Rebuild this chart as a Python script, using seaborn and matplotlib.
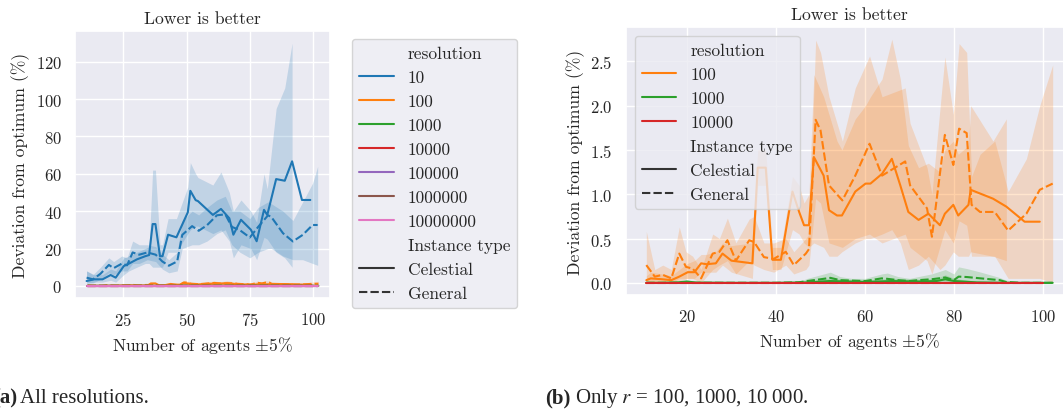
import numpy as np
import pandas as pd
import matplotlib
matplotlib.use("Agg")
import matplotlib.pyplot as plt
import seaborn as sns

# ---------------------------------------------------------------------------
# Deviation from optimum (%) per number of agents, one list per
# (resolution, instance type): x positions, mean, and confidence band.
# ---------------------------------------------------------------------------

# resolution 10, Celestial
x_10_cel = [10.5, 13.5, 16.8, 20.0, 22.0, 25.2, 27.2, 30.4, 33.7, 35.2, 36.6, 37.7,
            39.5, 40.5, 42.7, 46.0, 50.5, 51.5, 53.6, 54.5, 60.4, 63.6, 66.9, 68.5,
            71.5, 75.4, 77.7, 80.6, 81.9, 85.4, 88.8, 91.7, 95.6, 98.9]
y_10_cel = [2.6, 3.5, 3.5, 5.8, 4.4, 10.6, 11.9, 14.2, 15.9, 16.5, 33.1, 33.1,
            15.9, 15.9, 27.4, 26.0, 39.4, 50.9, 45.9, 45.4, 38.0, 41.2, 36.2, 27.4,
            35.4, 30.1, 23.9, 40.7, 38.0, 57.2, 56.3, 66.7, 46.0, 46.0]
lo_10_cel = [1, 2, 2, 3, 2, 6, 8, 10, 12, 12, 10, 10,
             10, 10, 18, 18, 28, 30, 32, 32, 28, 30, 24, 15,
             22, 20, 14, 26, 25, 18, 15, 10, np.nan, np.nan]
hi_10_cel = [8, 6, 6, 9, 8, 15, 16, 18, 20, 21, 62, 62,
             22, 22, 36, 36, 53, 66, 60, 58, 54, 61, 50, 40,
             46, 40, 34, 60, 52, 95, 106, 130, np.nan, np.nan]

# resolution 10, General
x_10_gen = [10.5, 13.0, 16.0, 19.3, 21.2, 24.4, 26.5, 28.7, 31.3, 34.5, 37.8, 40.4,
            43.0, 46.3, 48.3, 52.2, 54.8, 58.1, 62.0, 65.3, 67.9, 71.1, 75.0, 78.3,
            82.2, 83.5, 88.1, 92.0, 95.9, 99.8, 101.8]
y_10_gen = [4.4, 3.5, 6.5, 11.2, 9.5, 11.9, 11.0, 17.9, 16.7, 17.9, 16.7, 13.1,
            10.8, 13.1, 27.3, 32.0, 29.5, 32.5, 37.8, 38.3, 31.6, 29.8, 25.9, 31.6,
            37.8, 36.9, 28.2, 23.8, 27.3, 32.6, 32.6]
lo_10_gen = [2, 1.5, 3.5, 7, 6, 8, 8, 12, 12, 14, 13, 9,
             7, 8, 20, 22, 22, 24, 28, 30, 22, 18, 15, 18,
             20, 20, 16, 14, 14, 12, 11]
hi_10_gen = [8, 6, 10, 15, 13, 16, 15, 24, 22, 22, 21, 17,
             14, 18, 35, 40, 38, 42, 46, 48, 40, 40, 36, 42,
             45, 44, 40, 35, 45, 55, 64]

# resolution 100, Celestial
x_100_cel = [10.9, 11.9, 14.5, 16.5, 18.3, 20.2, 21.7, 23.2, 24.4, 26.5, 28.0, 30.0,
             34.7, 35.9, 37.7, 39.2, 41.1, 43.7, 45.2, 46.3, 47.4, 48.5, 50.7, 51.9,
             53.7, 54.8, 57.8, 60.1, 61.2, 63.8, 66.0, 67.9, 69.7, 72.0, 74.2, 76.8,
             77.9, 79.8, 80.9, 83.2, 83.7, 88.7, 91.7, 95.8, 99.2]
y_100_cel = [0.03, 0.05, 0.04, 0.03, 0.07, 0.12, 0.12, 0.22, 0.21, 0.22, 0.33, 0.25,
             0.22, 1.30, 1.30, 0.26, 0.26, 1.03, 0.80, 0.65, 0.65, 1.42, 1.21, 0.82,
             0.76, 0.76, 1.03, 1.12, 1.12, 1.23, 1.40, 1.10, 0.80, 0.71, 0.78, 0.65,
             0.78, 0.88, 0.76, 0.88, 1.05, 0.95, 0.86, 0.69, 0.69]
lo_100_cel = [0.0, 0.0, 0.0, 0.0, 0.02, 0.05, 0.05, 0.12, 0.12, 0.12, 0.20, 0.12,
              0.05, 1.10, 1.10, 0.15, 0.15, 0.60, 0.55, 0.45, 0.40, 0.45, 0.40, 0.30,
              0.30, 0.35, 0.45, 0.50, 0.50, 0.55, 0.60, 0.45, 0.15, 0.20, 0.30, 0.15,
              0.20, 0.35, 0.30, 0.30, 0.35, 0.30, 0.25, np.nan, np.nan]
hi_100_cel = [0.08, 0.12, 0.10, 0.08, 0.15, 0.22, 0.25, 0.32, 0.32, 0.35, 0.45, 0.42,
              0.45, 1.50, 1.50, 0.40, 0.40, 1.20, 1.10, 0.90, 1.00, 2.35, 2.10, 1.90,
              1.60, 1.50, 1.85, 2.00, 2.10, 2.30, 2.75, 2.30, 1.55, 1.30, 1.35, 1.25,
              1.50, 1.60, 1.45, 1.55, 2.00, 1.60, 1.85, np.nan, np.nan]

# resolution 100, General
x_100_gen = [10.9, 12.8, 14.6, 16.5, 18.3, 19.8, 21.3, 23.2, 25.8, 27.3, 29.1, 31.0,
             34.0, 35.1, 37.3, 39.5, 42.2, 44.0, 46.7, 47.4, 48.9, 50.0, 51.9, 54.9,
             57.8, 61.0, 63.8, 69.0, 70.1, 73.9, 75.0, 77.9, 79.8, 81.1, 82.8, 83.9,
             85.8, 89.1, 92.1, 96.2, 99.2, 102.1]
y_100_gen = [0.20, 0.07, 0.09, 0.05, 0.33, 0.18, 0.16, 0.05, 0.33, 0.35, 0.48, 0.25,
             0.48, 0.46, 0.29, 0.27, 0.35, 0.20, 0.33, 0.38, 1.84, 1.72, 1.10, 0.93,
             1.21, 1.57, 1.21, 1.37, 1.10, 0.84, 0.52, 1.67, 1.33, 1.74, 1.69, 0.88,
             0.80, 0.80, 0.59, 0.78, 1.05, 1.12]
lo_100_gen = [0.0, 0.0, 0.0, 0.0, 0.05, 0.05, 0.05, 0.0, 0.15, 0.20, 0.25, 0.10,
              0.25, 0.20, 0.15, 0.12, 0.20, 0.10, 0.15, 0.20, 0.95, 0.90, 0.45, 0.40,
              0.50, 0.55, 0.45, 0.55, 0.40, 0.25, 0.10, 0.60, 0.45, 0.70, 0.65, 0.30,
              0.30, 0.30, 0.05, 0.05, 0.05, 0.0]
hi_100_gen = [0.58, 0.15, 0.20, 0.15, 0.63, 0.35, 0.30, 0.15, 0.55, 0.50, 0.73, 0.45,
              0.72, 0.75, 0.45, 0.45, 0.50, 0.35, 0.50, 0.55, 2.74, 2.60, 2.10, 1.60,
              2.20, 2.56, 2.10, 2.20, 1.80, 1.30, 1.00, 2.55, 1.90, 2.70, 2.60, 1.20,
              1.45, 1.60, 1.03, 1.40, 2.00, 2.46]

# resolution 1000, Celestial
x_1000_cel = [10.9, 14.0, 18.0, 20.0, 22.0, 30.0, 40.0, 47.0, 52.0, 60.0, 66.0, 72.0,
              76.0, 78.0, 80.0, 85.0, 92.0, 100.0, 102.1]
y_1000_cel = [0.0, 0.0, 0.005, 0.015, 0.003, 0.0, 0.0, 0.005, 0.02, 0.01, 0.02, 0.015,
              0.02, 0.04, 0.02, 0.005, 0.0, 0.0, 0.0]
lo_1000_cel = [0.0, 0.0, 0.0, 0.005, 0.0, 0.0, 0.0, 0.0, 0.005, 0.0, 0.005, 0.005,
               0.005, 0.01, 0.005, 0.0, 0.0, 0.0, 0.0]
hi_1000_cel = [0.0, 0.005, 0.015, 0.03, 0.01, 0.0, 0.0, 0.015, 0.05, 0.03, 0.05, 0.04,
               0.05, 0.09, 0.05, 0.015, 0.0, 0.0, 0.0]

# resolution 1000, General
x_1000_gen = [10.9, 20.0, 30.0, 40.0, 45.0, 47.0, 50.0, 52.2, 54.4, 57.0, 60.0, 63.7,
              65.0, 67.4, 70.0, 71.9, 74.9, 78.0, 79.9, 81.0, 82.9, 86.0, 90.2, 91.6,
              95.0, 100.0, 102.1]
y_1000_gen = [0.0, 0.0, 0.0, 0.0, 0.005, 0.02, 0.04, 0.056, 0.03, 0.025, 0.02, 0.05,
              0.045, 0.03, 0.02, 0.03, 0.04, 0.06, 0.03, 0.07, 0.065, 0.05, 0.03, 0.01,
              0.0, 0.0, 0.0]
lo_1000_gen = [0.0, 0.0, 0.0, 0.0, 0.0, 0.0, 0.01, 0.02, 0.01, 0.005, 0.005, 0.02,
               0.015, 0.01, 0.005, 0.01, 0.01, 0.02, 0.005, 0.02, 0.02, 0.01, 0.005, 0.0,
               0.0, 0.0, 0.0]
hi_1000_gen = [0.0, 0.0, 0.0, 0.0, 0.01, 0.05, 0.09, 0.12, 0.07, 0.05, 0.05, 0.10,
               0.11, 0.07, 0.05, 0.07, 0.10, 0.15, 0.10, 0.18, 0.16, 0.12, 0.06, 0.03,
               0.01, 0.0, 0.0]

# resolutions 10000 and above stay at the optimum
x_flat = [10.9, 30.0, 50.0, 70.0, 90.0, 100.0]
y_flat = [0.0, 0.0, 0.0, 0.0, 0.0, 0.0]
x_flat_full = [10.5, 30.0, 50.0, 70.0, 90.0, 102.0]
y_flat_full = [0.0, 0.0, 0.0, 0.0, 0.0, 0.0]

resolutions_a = ["10", "100", "1000", "10000", "100000", "1000000", "10000000"]
resolutions_b = ["100", "1000", "10000"]
instance_types = ["Celestial", "General"]
palette_all = sns.color_palette("tab10", 7)

series = {
    ("10", "Celestial"): (x_10_cel, y_10_cel, lo_10_cel, hi_10_cel),
    ("10", "General"): (x_10_gen, y_10_gen, lo_10_gen, hi_10_gen),
    ("100", "Celestial"): (x_100_cel, y_100_cel, lo_100_cel, hi_100_cel),
    ("100", "General"): (x_100_gen, y_100_gen, lo_100_gen, hi_100_gen),
    ("1000", "Celestial"): (x_1000_cel, y_1000_cel, lo_1000_cel, hi_1000_cel),
    ("1000", "General"): (x_1000_gen, y_1000_gen, lo_1000_gen, hi_1000_gen),
    ("10000", "Celestial"): (x_flat, y_flat, y_flat, y_flat),
    ("10000", "General"): (x_flat, y_flat, y_flat, y_flat),
}
for r in ["100000", "1000000", "10000000"]:
    for t in instance_types:
        series[(r, t)] = (x_flat_full, y_flat_full, y_flat_full, y_flat_full)


def long_frame(res_list):
    rows = []
    for r in res_list:
        for t in instance_types:
            xs, ys, los, his = series[(r, t)]
            for xv, yv, lv, hv in zip(xs, ys, los, his):
                rows.append({"agents": xv, "deviation": yv, "lo": lv, "hi": hv,
                             "resolution": r, "Instance type": t})
    return pd.DataFrame(rows)


sns.set_theme(style="darkgrid")
plt.rcParams["font.family"] = ["cmr10", "DejaVu Serif"]
plt.rcParams["mathtext.fontset"] = "cm"
plt.rcParams["axes.formatter.use_mathtext"] = True
plt.rcParams["xtick.labelsize"] = 12
plt.rcParams["ytick.labelsize"] = 12
plt.rcParams["axes.labelsize"] = 12.7
plt.rcParams["axes.titlesize"] = 12.7
plt.rcParams["legend.fontsize"] = 12.5

W, H = 1063, 410
fig = plt.figure(figsize=(W / 100, H / 100), dpi=100)
ax_a = fig.add_axes([75 / W, (H - 299) / H, 255 / W, 267 / H])
ax_b = fig.add_axes([626 / W, (H - 296) / H, 447 / W, 268 / H])


def draw(ax, res_list, colors):
    df = long_frame(res_list)
    pal = dict(zip(res_list, colors))
    for (r, t), g in df.groupby(["resolution", "Instance type"], sort=False):
        ax.fill_between(g["agents"], g["lo"], g["hi"], color=pal[r],
                        alpha=0.2, linewidth=0)
    sns.lineplot(data=df, x="agents", y="deviation", hue="resolution",
                 style="Instance type", hue_order=res_list,
                 style_order=instance_types, palette=pal, errorbar=None, ax=ax)
    ax.set_title("Lower is better")
    ax.set_xlabel(r"Number of agents $\pm$5%")
    ax.set_ylabel("Deviation from optimum (%)")


draw(ax_a, resolutions_a, palette_all)
draw(ax_b, resolutions_b, palette_all[1:4])

ax_a.set_yticks([0, 20, 40, 60, 80, 100, 120])
ax_a.set_xticks([25, 50, 75, 100])
ax_b.set_yticks([0.0, 0.5, 1.0, 1.5, 2.0, 2.5])
ax_b.set_xticks([20, 40, 60, 80, 100])

sns.move_legend(ax_a, "upper left", bbox_to_anchor=(352 / W, 1 - 40 / H),
                bbox_transform=fig.transFigure, borderaxespad=0, title=None)
sns.move_legend(ax_b, "upper left", title=None)

cap_font = ["Liberation Serif", "DejaVu Serif"]
fig.text(-7 / W, 1 - 403 / H, "(a)", fontsize=15, weight="bold",
         family=cap_font, va="baseline")
fig.text(20.5 / W, 1 - 403 / H, "All resolutions.", fontsize=15,
         family=cap_font, va="baseline")
fig.text(545 / W, 1 - 403 / H, "(b)", fontsize=15, weight="bold",
         family=cap_font, va="baseline")
fig.text(575 / W, 1 - 403 / H, "Only $r$ = 100, 1000, 10\u2009000.", fontsize=15,
         family=cap_font, math_fontfamily="stix", va="baseline")

fig.savefig("out.png", dpi=100)
